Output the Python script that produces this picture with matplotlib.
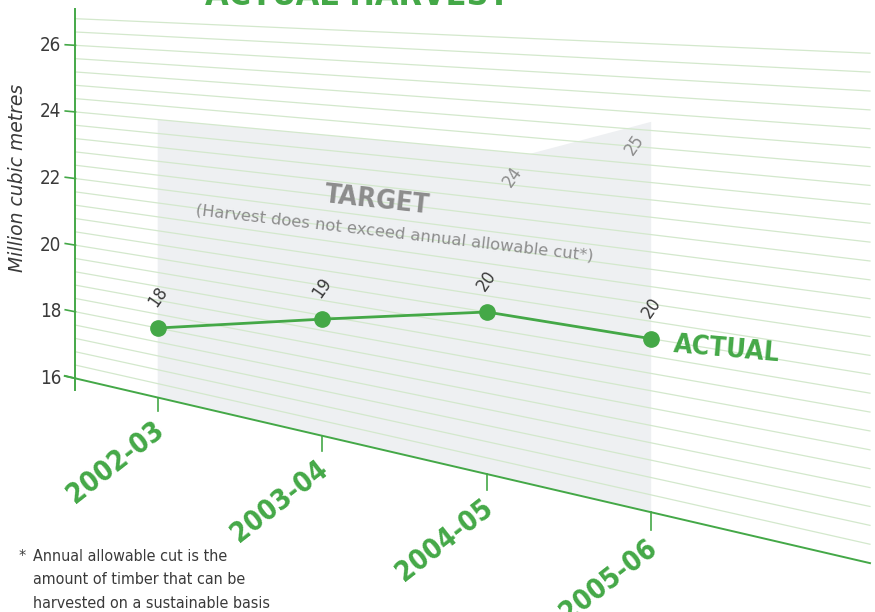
import numpy as np
import matplotlib
matplotlib.use('Agg')
import matplotlib.pyplot as plt
from matplotlib.transforms import Transform
from matplotlib.patches import Polygon

# data
years = ['2002-03', '2003-04', '2004-05', '2005-06']
actual = [18.0, 19.1, 20.0, 20.0]
target_pos = [0, 2.26, 3]
target_vals = [24, 24, 25]
target_labels = ['', '24', '25']
y_ticks = [16, 18, 20, 22, 24, 26]
grid_vals = [16.4 + 0.4 * i for i in range(27)]

GREEN = '#44a847'
GRID = '#d3e8cc'
SHADE = '#eef0f2'
DARK = '#3a3a3a'
GREY = '#8c8c8c'
NARROW = dict(family='DejaVu Sans', fontstretch='condensed')


class Slant(Transform):
    """bilinear 'perspective' plane of the original artwork -> pixel coords"""
    input_dims = 2
    output_dims = 2

    def transform_non_affine(self, values):
        values = np.asarray(values, dtype=float)
        x = 157.7 + 164.5 * values[:, 0]
        base = 378.3 + 0.2325 * (x - 75)
        scale = 33.3 + 0.0175 * (x - 75)
        y = base - (values[:, 1] - 16) * scale
        return np.column_stack([x, y])


fig = plt.figure(figsize=(8.75, 6.12), dpi=100)
ax = fig.add_axes([0, 0, 1, 1])
ax.set_xlim(0, 875)
ax.set_ylim(612, 0)
ax.set_autoscale_on(False)
ax.axis('off')
tr = Slant() + ax.transData

# shaded target area
shade = [(target_pos[0], 16)] + list(zip(target_pos, target_vals)) + [(target_pos[-1], 16)]
ax.add_patch(Polygon(shade, closed=True, transform=tr, facecolor=SHADE,
                     edgecolor='none', zorder=1))

# grid lines
for g in grid_vals:
    ax.plot([-0.5, 4.33], [g, g], transform=tr, color=GRID, lw=0.9, zorder=2)

# axes
ax.plot([-0.565, 4.33], [16, 16], transform=tr, color=GREEN, lw=1.4, zorder=3)
ax.plot([-0.5, -0.5], [15.65, 27.1], transform=tr, color=GREEN, lw=1.4, zorder=3)
for t in y_ticks:
    ax.plot([-0.562, -0.5], [t, t], transform=tr, color=GREEN, lw=1.2, zorder=3)
    ax.annotate(str(t), (-0.5, t), xycoords=tr, xytext=(-14, 0),
                textcoords='offset pixels', ha='right', va='center',
                fontsize=13.5, color=DARK, **NARROW)
for i, yr in enumerate(years):
    ax.plot([i, i], [16, 15.6], transform=tr, color=GREEN, lw=1.2, zorder=3)
    ax.annotate(yr, (i, 15.6), xycoords=tr, xytext=(-6, -4),
                textcoords='offset pixels', ha='right', va='top',
                rotation=38, rotation_mode='anchor', fontsize=20,
                fontweight='bold', color=GREEN, **NARROW)

# target labels
for p, v, lab in zip(target_pos, target_vals, target_labels):
    if lab:
        ax.annotate(lab, (p, v), xycoords=tr, xytext=(-17, -23),
                    textcoords='offset pixels', ha='center', va='center',
                    rotation=55, fontsize=13, color=GREY, **NARROW)

# actual line
ax.plot(range(len(actual)), actual, transform=tr, color=GREEN, lw=2.0,
        marker='o', ms=11, zorder=5)
for i, v in enumerate(actual):
    ax.annotate(f'{v:.0f}', (i, v), xycoords=tr, xytext=(0, 31),
                textcoords='offset pixels', ha='center', va='center',
                rotation=55, fontsize=13, color=DARK, **NARROW)
ax.annotate('ACTUAL', (len(actual) - 1, actual[-1]), xycoords=tr,
            xytext=(22, -13), textcoords='offset pixels', ha='left',
            va='baseline', rotation=-5, rotation_mode='anchor', fontsize=19.5,
            fontweight='bold', color=GREEN, **NARROW)

# annotations
ax.text(324, 202, 'TARGET', ha='left', va='baseline', rotation=-6.2,
        rotation_mode='anchor', fontsize=19.5, fontweight='bold', color=GREY,
        **NARROW)
ax.text(195, 215, '(Harvest does not exceed annual allowable cut*)',
        ha='left', va='baseline', rotation=-6.6, rotation_mode='anchor',
        fontsize=11.8, color=GREY)
ax.text(205, 5, 'ACTUAL HARVEST', ha='left', va='baseline', fontsize=24.5,
        fontweight='bold', color=GREEN, **NARROW)
ax.text(18, 178, 'Million cubic metres', ha='center', va='center',
        rotation=90, fontsize=13.5, style='italic', color=DARK)

# footnote
ax.text(19, 561, '*', ha='left', va='baseline', fontsize=11.5, color=DARK, **NARROW)
foot = ['Annual allowable cut is the', 'amount of timber that can be',
        'harvested on a sustainable basis']
for j, line in enumerate(foot):
    ax.text(33, 561 + 23.5 * j, line, ha='left', va='baseline',
            fontsize=11.5, color=DARK, **NARROW)

fig.savefig('out.png', dpi=100)
